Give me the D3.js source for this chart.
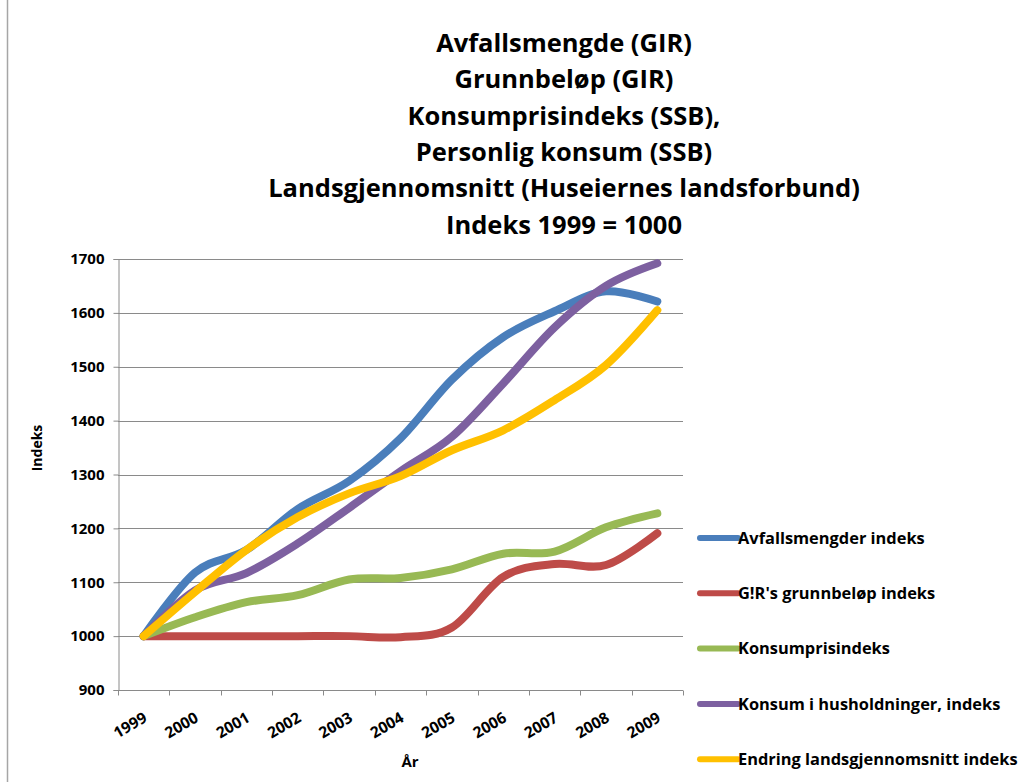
<!DOCTYPE html>
<html>
<head>
<meta charset="utf-8">
<script src="https://cdn.jsdelivr.net/npm/d3@7"></script>
<style>
  body { margin: 0; background: #fff; }
  svg { display: block; font-family: "Open Sans", Lato, sans-serif; }
</style>
</head>
<body>
<svg id="chart" width="1024" height="782"></svg>
<script>
// data
const years = ['1999', '2000', '2001', '2002', '2003', '2004', '2005', '2006', '2007', '2008', '2009'];
const avfall = [1000, 1118, 1160, 1236, 1288, 1367, 1476, 1555, 1603, 1640, 1621];
const grunnbelop = [1000, 1000, 1000, 1000, 1000, 998, 1016, 1110, 1134, 1132, 1191];
const kpi = [1000, 1035, 1063, 1076, 1105, 1108, 1124, 1153, 1157, 1202, 1228];
const konsum = [1000, 1085, 1117, 1172, 1238, 1306, 1370, 1469, 1573, 1650, 1692];
const landsnitt = [1000, 1082, 1160, 1221, 1265, 1297, 1345, 1382, 1438, 1503, 1605];
const seriesNames = ['Avfallsmengder indeks', "G!R's grunnbeløp indeks", 'Konsumprisindeks',
  'Konsum i husholdninger, indeks', 'Endring landsgjennomsnitt indeks'];
const seriesColors = ['#4a7ebb', '#be4b48', '#98b954', '#7d60a0', '#ffc000'];
const yTicks = [900, 1000, 1100, 1200, 1300, 1400, 1500, 1600, 1700];
const titleLines = ['Avfallsmengde (GIR)', 'Grunnbeløp (GIR)', 'Konsumprisindeks (SSB),',
  'Personlig konsum (SSB)', 'Landsgjennomsnitt (Huseiernes landsforbund)', 'Indeks 1999 = 1000'];

const series = [avfall, grunnbelop, kpi, konsum, landsnitt].map((values, i) => ({
  name: seriesNames[i], color: seriesColors[i], values
}));

const svg = d3.select('#chart');
const plotLeft = 118, plotRight = 683, plotTop = 259, plotBottom = 690;
const gridColor = '#8a8a8a';

const x = d3.scaleBand().domain(years).range([plotLeft, plotRight]).padding(0);
const y = d3.scaleLinear().domain([900, 1700]).range([plotBottom, plotTop]);

// chart frame edge
svg.append('line').attr('x1', 7.5).attr('x2', 7.5).attr('y1', 0).attr('y2', 782)
  .attr('stroke', '#a6a6a6').attr('stroke-width', 1.5);

// title
svg.append('g').selectAll('text').data(titleLines).join('text')
  .attr('x', 564).attr('y', (d, i) => 52 + i * 36.3)
  .attr('text-anchor', 'middle').attr('font-size', 25.5).attr('font-weight', 'bold')
  .attr('fill', '#000').text(d => d);

// gridlines
svg.append('g').selectAll('line').data(yTicks.slice(1)).join('line')
  .attr('x1', plotLeft).attr('x2', plotRight)
  .attr('y1', d => Math.round(y(d)) + 0.5).attr('y2', d => Math.round(y(d)) + 0.5)
  .attr('stroke', gridColor).attr('stroke-width', 1);

// y axis
const yAxis = svg.append('g').attr('transform', `translate(${plotLeft + 0.5},0)`)
  .call(d3.axisLeft(y).tickValues(yTicks).tickSize(5).tickPadding(9).tickFormat(d3.format('d')));
yAxis.select('.domain').attr('stroke', gridColor);
yAxis.selectAll('.tick line').attr('stroke', gridColor);
yAxis.selectAll('.tick text').attr('font-size', 15).attr('font-weight', 'bold')
  .attr('font-family', '"Open Sans", sans-serif').attr('fill', '#000');

// x axis with ticks on category edges
const xAxis = svg.append('g').attr('transform', `translate(0,${plotBottom + 0.5})`);
xAxis.append('line').attr('x1', plotLeft).attr('x2', plotRight).attr('stroke', gridColor);
xAxis.selectAll('line.tk').data(years.concat(['end'])).join('line').attr('class', 'tk')
  .attr('x1', (d, i) => Math.round(plotLeft + i * x.bandwidth()) + 0.5)
  .attr('x2', (d, i) => Math.round(plotLeft + i * x.bandwidth()) + 0.5)
  .attr('y1', 0).attr('y2', 5).attr('stroke', gridColor);
xAxis.selectAll('text').data(years).join('text')
  .attr('transform', d => `translate(${x(d) + x.bandwidth() / 2 - 1},${21}) rotate(-30)`)
  .attr('text-anchor', 'end').attr('dy', '0.7em')
  .attr('font-size', 15.5).attr('font-weight', 'bold').attr('fill', '#000').text(d => d);

// axis titles
svg.append('text').attr('x', 410).attr('y', 767).attr('text-anchor', 'middle')
  .attr('font-size', 15).attr('font-weight', 'bold').text('År');
svg.append('text').attr('transform', 'translate(42,448) rotate(-90)').attr('text-anchor', 'middle')
  .attr('font-size', 14).attr('font-weight', 'bold').text('Indeks');

// lines
const line = d3.line()
  .x((d, i) => x(years[i]) + x.bandwidth() / 2)
  .y(d => y(d))
  .curve(d3.curveCatmullRom.alpha(0));

svg.append('g').selectAll('path').data(series).join('path')
  .attr('d', d => line(d.values))
  .attr('fill', 'none').attr('stroke', d => d.color)
  .attr('stroke-width', 8).attr('stroke-linecap', 'round').attr('stroke-linejoin', 'round');

// legend
const legend = svg.append('g').selectAll('g').data(series).join('g')
  .attr('transform', (d, i) => `translate(697,${538 + i * 55.3})`);
legend.append('line').attr('x1', 3).attr('x2', 41).attr('y1', 0).attr('y2', 0)
  .attr('stroke', d => d.color).attr('stroke-width', 6).attr('stroke-linecap', 'round');
legend.append('text').attr('x', 41).attr('dy', '0.35em')
  .attr('font-size', 16.4).attr('font-weight', 'bold').attr('fill', '#000').text(d => d.name);
</script>
</body>
</html>
